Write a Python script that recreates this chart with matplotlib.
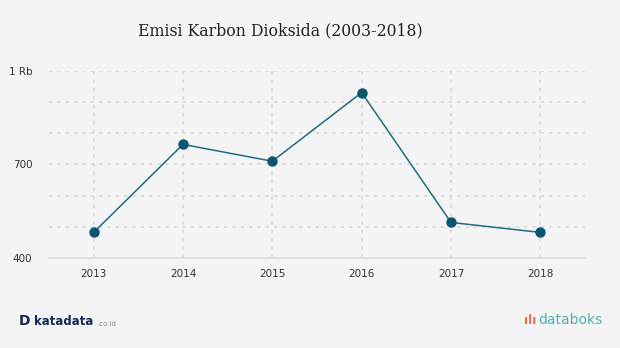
import matplotlib.pyplot as plt
from matplotlib.ticker import FixedLocator, MultipleLocator

# data
years = [2013, 2014, 2015, 2016, 2017, 2018]
emisi = [482, 764, 710, 930, 514, 482]
ytick_vals = [400, 700, 1000]
ytick_labels = ['400', '700', '1 Rb']

bg = '#f4f4f4'
line_col = '#1f6b85'
dot_col = '#0a5670'

fig = plt.figure(figsize=(6.2, 3.48), dpi=100, facecolor=bg)
ax = fig.add_axes([0.079, 0.2586, 0.8645, 0.5382], facecolor=bg)

ax.plot(years, emisi, color=line_col, lw=1.1, zorder=3)
ax.scatter(years, emisi, s=42, color=dot_col, zorder=4)

ax.set_xlim(2012.5, 2018.5)
ax.set_ylim(400, 1000)
ax.set_xticks(years)
ax.set_xticklabels([str(y) for y in years])
ax.yaxis.set_major_locator(FixedLocator(ytick_vals))
ax.set_yticklabels(ytick_labels)
ax.yaxis.set_minor_locator(MultipleLocator(100))

ax.grid(which='both', axis='y', color='#d9d9d9', ls=(0, (2, 3)), lw=1.2)
ax.grid(which='major', axis='x', color='#d9d9d9', ls=(0, (2, 3)), lw=1.2)
ax.tick_params(which='both', length=0, labelsize=7.5, colors='#333333')
ax.tick_params(axis='x', pad=8)
ax.tick_params(axis='y', pad=12)
for s in ['top', 'right', 'left']:
    ax.spines[s].set_visible(False)
ax.spines['bottom'].set_color('#dddddd')
ax.spines['bottom'].set_linewidth(1.2)

fig.text(0.452, 0.91, 'Emisi Karbon Dioksida (2003-2018)', ha='center', va='center',
         fontsize=11.3, family='DejaVu Serif', color='#222222')

# footer logos as text
fig.text(0.03, 0.077, 'D', fontsize=10, fontweight='bold', color='#13295b', va='center',
         family='DejaVu Sans')
fig.text(0.055, 0.077, 'katadata', fontsize=8.5, fontweight='bold', color='#13295b',
         va='center', family='DejaVu Sans')
fig.text(0.157, 0.07, '.co.id', fontsize=5, color='#888888', va='center')
fig.text(0.845, 0.08, 'ılı', fontsize=9, fontweight='bold', color='#e8714a', va='center')
fig.text(0.868, 0.08, 'databoks', fontsize=10, color='#4cb3ad', va='center')

fig.savefig('out.png', dpi=100, facecolor=bg)
